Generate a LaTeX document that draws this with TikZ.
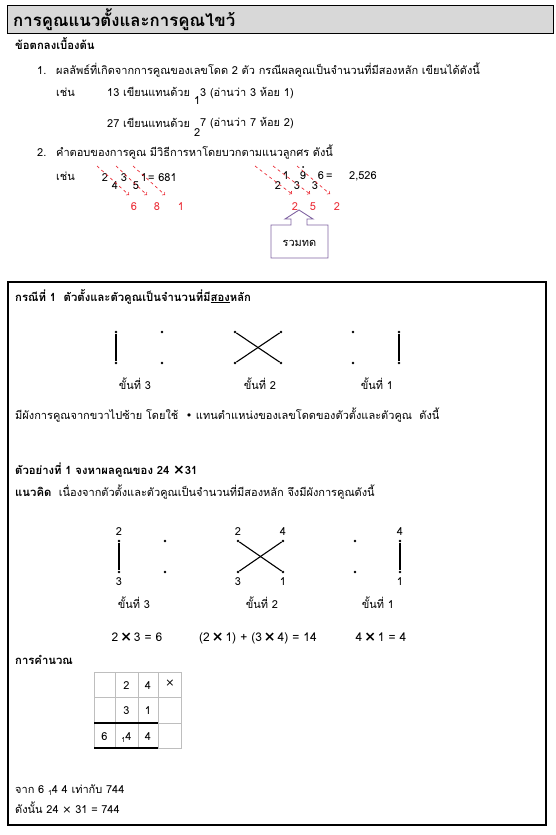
\documentclass[tikz,border=0pt]{standalone}
\usepackage{fontspec}
\setmainfont[Script=Thai]{Loma}
\newfontfamily\symfont{DejaVu Sans}
\usetikzlibrary{positioning}

\definecolor{titlegray}{RGB}{216,216,216}
\definecolor{gridgray}{RGB}{190,190,190}
\definecolor{sumred}{RGB}{235,45,55}
\definecolor{tallyviolet}{RGB}{128,100,162}
\newcommand{\by}{\,{\symfont\fontsize{14}{16}\selectfont\bfseries ×}\,}

\begin{document}
\begin{tikzpicture}[x=1pt,y=-1pt,
  body/.style={inner sep=0pt,font=\fontsize{11}{13}\selectfont},
  txt/.style={body,anchor=base west},
  mid/.style={body,anchor=base},
  bold/.style={txt,font=\fontsize{11.3}{13}\selectfont\bfseries},
  sumnum/.style={mid,text=sumred},
  eqn/.style={mid,font=\fontsize{12}{14}\selectfont},
  pt/.style={circle,fill,inner sep=0pt,minimum size=2.8pt},
  pair/.style={line width=1.1pt},
  sumarrow/.style={sumred,dashed,->,line width=0.7pt},
  every label/.style={body},
  label distance=4pt]

\useasboundingbox (0,0) rectangle (556,835);

% heading
\draw[fill=titlegray,line width=1pt] (7,5) rectangle (553,33);
\node[txt,font=\fontsize{16.8}{20}\selectfont\bfseries] (title) at (13,26) {การคูณแนวตั้งและการคูณไขว้};
\node[bold] (basic) at (15,49) {ข้อตกลงเบื้องต้น};

% rule 1
\node[txt] (n1) at (37,74) {1.};
\node[txt] (r1) at (56,74) {ผลลัพธ์ที่เกิดจากการคูณของเลขโดด 2 ตัว กรณีผลคูณเป็นจำนวนที่มีสองหลัก เขียนได้ดังนี้};
\node[txt] (eg1) at (56,96) {เช่น};
\node[txt] (e13) at (107,96) {13 เขียนแทนด้วย};
\node[txt] (e13s) at (194,104) {1};
\node[txt] (e13r) at (200,96) {3 (อ่านว่า 3 ห้อย 1)};
\node[txt] (e27) at (107,127) {27 เขียนแทนด้วย};
\node[txt] (e27s) at (194,136) {2};
\node[txt] (e27r) at (200,126) {7 (อ่านว่า 7 ห้อย 2)};

% rule 2
\node[txt] (n2) at (37,156) {2.};
\node[txt] (r2) at (56,156) {คำตอบของการคูณ มีวิธีการหาโดยบวกตามแนวลูกศร ดังนี้};
\node[txt] (eg2) at (56,180) {เช่น};

\node[mid] (a2) at (105,181) {2};
\node[mid] (a4) at (115,189) {4};
\node[mid] (a3) at (124,181) {3};
\node[mid] (a5) at (136,189) {5};
\node[mid] (a1) at (144,181) {1};
\node[txt] (aeq) at (148,181) {= 681};
\node[sumnum] (s6) at (134,210) {6};
\node[sumnum] (s8) at (157,210) {8};
\node[sumnum] (s1) at (181,210) {1};
\coordinate (ua) at (97,166);  \coordinate (va) at (129,195);
\coordinate (ub) at (116,166); \coordinate (vb) at (147,195);
\coordinate (uc) at (133,166); \coordinate (vc) at (165,195);
\draw[sumarrow] (ua) -- (va);
\draw[sumarrow] (ub) -- (vb);
\draw[sumarrow] (uc) -- (vc);

\node[mid] (b2) at (278,189) {2};
\node[mid] (b1) at (286,179) {1};
\node[mid] (b3) at (297,189) {3};
\node[mid] (b9) at (303,179) {9};
\node[mid] (b3x) at (315,189) {3};
\node[mid] (b6) at (321,179) {6};
\node[txt] (beq) at (326,179) {=};
\node[txt] (bres) at (349,179) {2,526};
\node[circle,fill,inner sep=0pt,minimum size=2pt] (carry) at (303,167) {};
\node[sumnum] (t2) at (295,210) {2};
\node[sumnum] (t5) at (313,210) {5};
\node[sumnum] (t2x) at (337,210) {2};
\coordinate (ud) at (255,166); \coordinate (vd) at (292,194);
\coordinate (ue) at (273,166); \coordinate (ve) at (310,194);
\coordinate (uf) at (297,166); \coordinate (vf) at (330,194);
\draw[sumarrow] (ud) -- (vd);
\draw[sumarrow] (ue) -- (ve);
\draw[sumarrow] (uf) -- (vf);

% carry callout
\draw[tallyviolet,line width=0.9pt,fill=white] (271,225) -- (291,225) -- (291,219) -- (285,219) -- (299,210)
  -- (313,219) -- (307,219) -- (307,225) -- (328,225) -- (328,258) -- (271,258) -- cycle;
\node[mid] (tally) at (299.5,246) {รวมทด};

% case 1 frame
\draw[line width=1.3pt] (8,282) rectangle (546,825);
\node[bold] (case) at (15,301) {กรณีที่ 1\ \ ตัวตั้งและตัวคูณเป็นจำนวนที่มี\underline{สอง}หลัก};

\node[pt] (p3a) at (116,332) {};
\node[pt] (p3b) at (116,363) {};
\node[pt] (p3c) at (162,332) {};
\node[pt] (p3d) at (162,363) {};
\node[pt] (p2a) at (235,332) {};
\node[pt] (p2b) at (235,363) {};
\node[pt] (p2c) at (281,332) {};
\node[pt] (p2d) at (281,363) {};
\node[pt] (p1a) at (353,332) {};
\node[pt] (p1b) at (353,363) {};
\node[pt] (p1c) at (399,332) {};
\node[pt] (p1d) at (399,363) {};
\draw[pair] (p3a) -- (p3b);
\draw[pair] (p2a) -- (p2d);
\draw[pair] (p2b) -- (p2c);
\draw[pair] (p1c) -- (p1d);
\node[mid] (st3) at (135,389) {ขั้นที่ 3};
\node[mid] (st2) at (260,389) {ขั้นที่ 2};
\node[mid] (st1) at (377,389) {ขั้นที่ 1};

\node[txt] (plan) at (15,419) {มีผังการคูณจากขวาไปซ้าย โดยใช้\ \ {\symfont •} แทนตำแหน่งของเลขโดดของตัวตั้งและตัวคูณ\ \ ดังนี้};

% example 1
\node[bold] (ex) at (15,474) {ตัวอย่างที่ 1 จงหาผลคูณของ 24 {\symfont\fontsize{14}{16}\selectfont\bfseries ×}31};
\node[txt] (idea) at (15,496) {{\bfseries\fontsize{11.3}{13}\selectfont แนวคิด}\ \ เนื่องจากตัวตั้งและตัวคูณเป็นจำนวนที่มีสองหลัก จึงมีผังการคูณดังนี้};

\node[pt,label=above:2] (q3a) at (119,541) {};
\node[pt,label=below:3] (q3b) at (119,572) {};
\node[pt] (q3c) at (165,541) {};
\node[pt] (q3d) at (165,572) {};
\node[pt,label=above:2] (q2a) at (238,541) {};
\node[pt,label=below:3] (q2b) at (238,572) {};
\node[pt,label=above:4] (q2c) at (283,541) {};
\node[pt,label=below:1] (q2d) at (283,572) {};
\node[pt] (q1a) at (355,541) {};
\node[pt] (q1b) at (355,572) {};
\node[pt,label=above:4] (q1c) at (400,541) {};
\node[pt,label=below:1] (q1d) at (400,572) {};
\draw[pair] (q3a) -- (q3b);
\draw[pair] (q2a) -- (q2d);
\draw[pair] (q2b) -- (q2c);
\draw[pair] (q1c) -- (q1d);
\node[mid] (tt3) at (134,608) {ขั้นที่ 3};
\node[mid] (tt2) at (262,608) {ขั้นที่ 2};
\node[mid] (tt1) at (378,608) {ขั้นที่ 1};
\node[eqn] (m3) at (137,641) {2\by3 = 6};
\node[eqn] (m2) at (258,641) {(2\by1) + (3\by4) = 14};
\node[eqn] (m1) at (381,641) {4\by1 = 4};

% working
\node[bold] (work) at (15,664) {การคำนวณ};
\draw[gridgray,line width=0.6pt] (94,672) rectangle (181,748);
\draw[gridgray,line width=0.6pt] (94,697) -- (181,697);
\draw[gridgray,line width=0.6pt] (94,723) -- (181,723);
\draw[gridgray,line width=0.6pt] (115,672) -- (115,748);
\draw[gridgray,line width=0.6pt] (138,672) -- (138,748);
\draw[gridgray,line width=0.6pt] (158,672) -- (158,748);
\draw[line width=1.2pt] (94,723) -- (158,723);
\draw[line width=2pt] (94,748) -- (158,748);
\node[mid] (c12) at (126.5,689) {2};
\node[mid] (c13) at (148,689) {4};
\node[mid,font=\fontsize{11}{13}\symfont] (c14) at (170,686) {×};
\node[mid] (c22) at (126.5,714) {3};
\node[mid] (c23) at (148,714) {1};
\node[mid] (c31) at (104.5,740) {6};
\node[mid] (c32) at (126.5,740) {\raisebox{-2pt}{\fontsize{7}{8}\selectfont 1}4};
\node[mid] (c33) at (148,740) {4};

\node[txt] (from) at (15,793) {จาก 6 \raisebox{-2pt}{\fontsize{7}{8}\selectfont 1}4 4 เท่ากับ 744};
\node[txt] (so) at (15,813) {ดังนั้น 24 {\symfont ×} 31 = 744};
\end{tikzpicture}
\end{document}
